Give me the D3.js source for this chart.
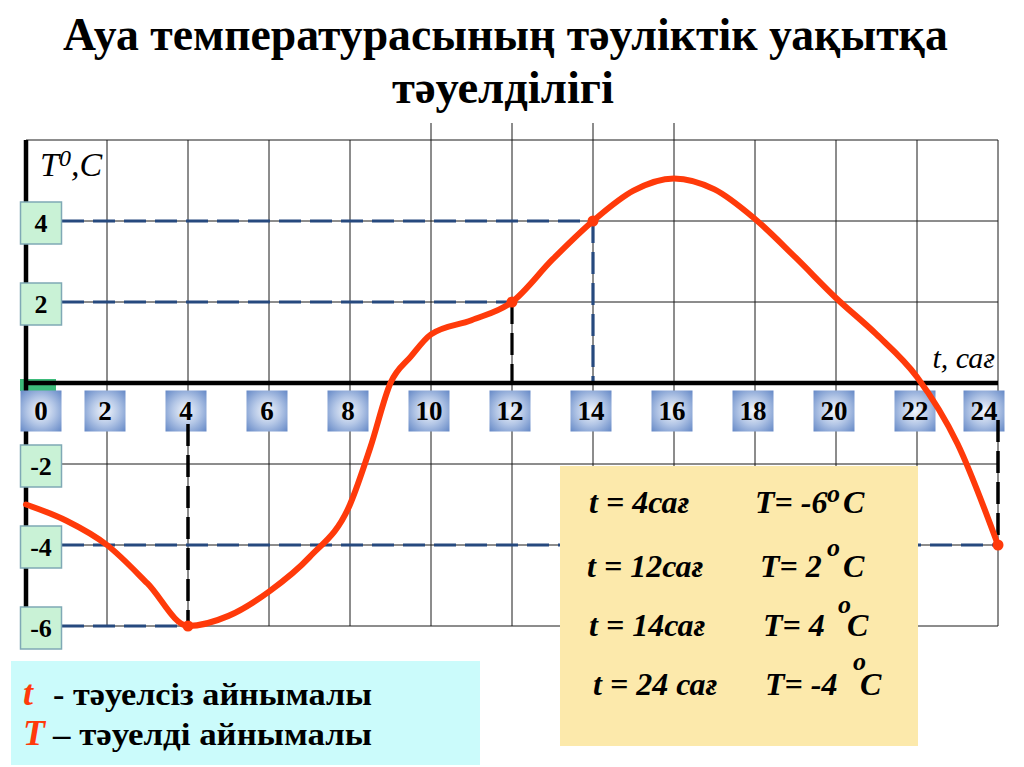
<!DOCTYPE html>
<html>
<head>
<meta charset="utf-8">
<script src="https://cdn.jsdelivr.net/npm/d3@7"></script>
<style>
  body { margin: 0; background: #fff; }
  svg { display: block; }
</style>
</head>
<body>
<svg id="chart" width="1024" height="767"></svg>
<script>
// hours of the day and air temperature
const hours = [0, 1, 2, 3, 4, 5, 6, 7, 8, 8.5, 9, 9.5, 10, 11, 12, 13, 14, 15, 16, 17, 18, 19, 20, 21, 22, 23, 24];
const temps = [-3, -3.4, -4, -4.95, -6, -5.75, -5.15, -4.3, -3, -1.6, 0, 0.65, 1.2, 1.55, 2, 3.05, 4, 4.75, 5.05, 4.78, 4.05, 3.1, 2.1, 1.2, 0.15, -1.5, -4];

// marked points
const keyHours = [4, 12, 14, 24];
const keyTemps = [-6, 2, 4, -4];

// tick labels
const xTicks = [0, 2, 4, 6, 8, 10, 12, 14, 16, 18, 20, 22, 24];
const yTicks = [4, 2, -2, -4, -6];
const yGrid = [-6, -4, -2, 0, 2, 4, 6];

// texts
const titleLines = ["Ауа температурасының тәуліктік уақытқа", "тәуелділігі"];
const infoLeft = ["t = 4сағ", "t = 12сағ", "t = 14сағ", "t = 24 сағ"];
const infoRight = ["T= -6", "T= 2", "T= 4", "T= -4"];
const legendVars = ["t", "T"];
const legendTexts = ["- тәуелсіз айнымалы", "– тәуелді айнымалы"];

const svg = d3.select("#chart");
const red = "#ff3a0a";
const navy = "#26497e";

// serif face on every text
function txt(sel, size, bold, italic) {
    sel.attr("font-family", "Liberation Serif").attr("font-size", size);
    if (bold) sel.attr("font-weight", "bold");
    if (italic) sel.attr("font-style", "italic");
    return sel;
}

// squeeze a text horizontally to a given width (no textLength)
function fitWidth(sel, left, baseline, width) {
    let w = sel.node().getComputedTextLength() || width;
    sel.attr("transform", "translate(" + left + "," + baseline + ") scale(" + (width / w) + ",1)");
    return sel;
}

let x = d3.scaleLinear().domain([0, 24]).range([26, 998]);
let y = d3.scaleLinear().domain([-6, 6]).range([626, 140]);

// gradient for the hour boxes
let defs = svg.append("defs");
let grad = defs.append("radialGradient").attr("id", "blueBox").attr("r", "0.75");
grad.append("stop").attr("offset", "0%").attr("stop-color", "#f4f7fc");
grad.append("stop").attr("offset", "45%").attr("stop-color", "#b3c6e6");
grad.append("stop").attr("offset", "100%").attr("stop-color", "#5a80c2");

// title
fitWidth(txt(svg.append("text"), 46, true).text(titleLines[0]), 63, 50, 885);
fitWidth(txt(svg.append("text"), 46, true).text(titleLines[1]), 392, 103, 222);

// grid
let grid = svg.append("g").attr("stroke", "#1a1a1a").attr("stroke-width", 1);
grid.selectAll(".vgrid")
    .data(xTicks)
    .enter().append("line")
    .attr("x1", d => x(d)).attr("x2", d => x(d))
    .attr("y1", d => (d >= 10 && d <= 16) ? 123 : y(6))
    .attr("y2", y(-6));
grid.selectAll(".hgrid")
    .data(yGrid)
    .enter().append("line")
    .attr("x1", x(0)).attr("x2", x(24))
    .attr("y1", d => y(d)).attr("y2", d => y(d));

// dashed guide lines
let guides = svg.append("g").attr("fill", "none").attr("stroke-width", 3.2).attr("stroke-dasharray", "22,9");
guides.append("line").attr("stroke", navy)
    .attr("x1", 62).attr("x2", x(14)).attr("y1", y(4)).attr("y2", y(4));
guides.append("line").attr("stroke", navy)
    .attr("x1", 62).attr("x2", x(12)).attr("y1", y(2)).attr("y2", y(2));
guides.append("line").attr("stroke", navy)
    .attr("x1", 62).attr("x2", x(24)).attr("y1", y(-4)).attr("y2", y(-4));
guides.append("line").attr("stroke", navy)
    .attr("x1", 62).attr("x2", x(4)).attr("y1", y(-6)).attr("y2", y(-6));
guides.append("line").attr("stroke", navy)
    .attr("x1", x(14)).attr("x2", x(14)).attr("y1", y(4)).attr("y2", y(0));
guides.append("line").attr("stroke", "#000")
    .attr("x1", x(12)).attr("x2", x(12)).attr("y1", y(2)).attr("y2", y(0));

// green stub behind the zero box
svg.append("rect")
    .attr("x", 20).attr("y", 379).attr("width", 36).attr("height", 12)
    .attr("fill", "#3dbb7a");

// axes
svg.append("line")
    .attr("x1", x(0)).attr("x2", x(24)).attr("y1", y(0)).attr("y2", y(0))
    .attr("stroke", "#000").attr("stroke-width", 4.5);
svg.append("line")
    .attr("x1", x(0)).attr("x2", x(0)).attr("y1", y(6)).attr("y2", y(-6))
    .attr("stroke", "#000").attr("stroke-width", 4.5);

// temperature label boxes
let yBox = svg.selectAll(".ybox")
    .data(yTicks)
    .enter().append("g")
    .attr("class", "ybox")
    .attr("transform", d => "translate(41," + (y(d) + 2) + ")");
yBox.append("rect")
    .attr("x", -20.5).attr("y", -21).attr("width", 41).attr("height", 42)
    .attr("fill", "#c9f2d6").attr("stroke", "#7fa9b5").attr("stroke-width", 1.5);
txt(yBox.append("text"), 26, true)
    .attr("y", 9).attr("text-anchor", "middle")
    .text(d => d);

// hour label boxes
let xBox = svg.selectAll(".xbox")
    .data(xTicks)
    .enter().append("g")
    .attr("class", "xbox")
    .attr("transform", d => "translate(" + Math.min(Math.max(x(d) - 2, 41), 984) + ",411)");
xBox.append("rect")
    .attr("x", -20.5).attr("y", -20.5).attr("width", 41).attr("height", 41)
    .attr("fill", "url(#blueBox)");
txt(xBox.append("text"), 27, true)
    .attr("y", 9).attr("text-anchor", "middle")
    .text(d => d);

// black drops from the hour boxes
let drops = svg.append("g").attr("stroke", "#000").attr("stroke-width", 3.5).attr("stroke-dasharray", "22,9");
drops.append("line").attr("x1", x(4)).attr("x2", x(4)).attr("y1", 424).attr("y2", y(-6));
drops.append("line").attr("x1", x(24)).attr("x2", x(24)).attr("y1", 420).attr("y2", y(-4));

// axis titles
let yTitle = txt(svg.append("text"), 34, false, true)
    .attr("x", 40).attr("y", 176);
yTitle.append("tspan").text("T");
yTitle.append("tspan").attr("dy", -10).attr("font-size", 24).text("0");
yTitle.append("tspan").attr("dy", 10).text(",C");

txt(svg.append("text"), 30, false, true)
    .attr("x", 995).attr("y", 368)
    .attr("text-anchor", "end")
    .text("t, сағ");

// temperature curve
let line = d3.line()
    .x((d, i) => x(hours[i]))
    .y(d => y(d))
    .curve(d3.curveMonotoneX);
svg.append("path")
    .datum(temps)
    .attr("d", line)
    .attr("fill", "none")
    .attr("stroke", red)
    .attr("stroke-width", 6)
    .attr("stroke-linecap", "round");

svg.selectAll(".dot")
    .data(keyHours)
    .enter().append("circle")
    .attr("cx", d => x(d))
    .attr("cy", (d, i) => y(keyTemps[i]))
    .attr("r", 5.5)
    .attr("fill", red);

// info panel
svg.append("rect")
    .attr("x", 560).attr("y", 466).attr("width", 358).attr("height", 280)
    .attr("fill", "#fce9ab");

let rowY = [513, 577, 636, 695];
let leftX = [589, 587, 589, 593];
let rightX = [755, 760, 763, 765];
let degX = [827, 827, 838, 853];
let degY = [502, 556, 613, 670];
let cX = [843, 843, 847, 860];

let rows = svg.selectAll(".info")
    .data(infoLeft)
    .enter().append("g")
    .attr("class", "info");
txt(rows.append("text"), 32, true, true)
    .attr("x", (d, i) => leftX[i]).attr("y", (d, i) => rowY[i])
    .text(d => d);
txt(rows.append("text"), 32, true, true)
    .attr("x", (d, i) => rightX[i]).attr("y", (d, i) => rowY[i])
    .text((d, i) => infoRight[i]);
txt(rows.append("text"), 26, true, true)
    .attr("x", (d, i) => degX[i]).attr("y", (d, i) => degY[i])
    .text("o");
txt(rows.append("text"), 32, true, true)
    .attr("x", (d, i) => cX[i]).attr("y", (d, i) => rowY[i])
    .text("C");

// legend panel
svg.append("rect")
    .attr("x", 11).attr("y", 661).attr("width", 469).attr("height", 104)
    .attr("fill", "#cbfbfb");

legendTexts.forEach(function (d, i) {
    let base = 705 + i * 40;
    txt(svg.append("text"), 36, true, true)
        .attr("x", 23).attr("y", base)
        .attr("fill", red)
        .text(legendVars[i]);
    fitWidth(txt(svg.append("text"), 32, true).text(d), 53, base, 319);
});
</script>
</body>
</html>
